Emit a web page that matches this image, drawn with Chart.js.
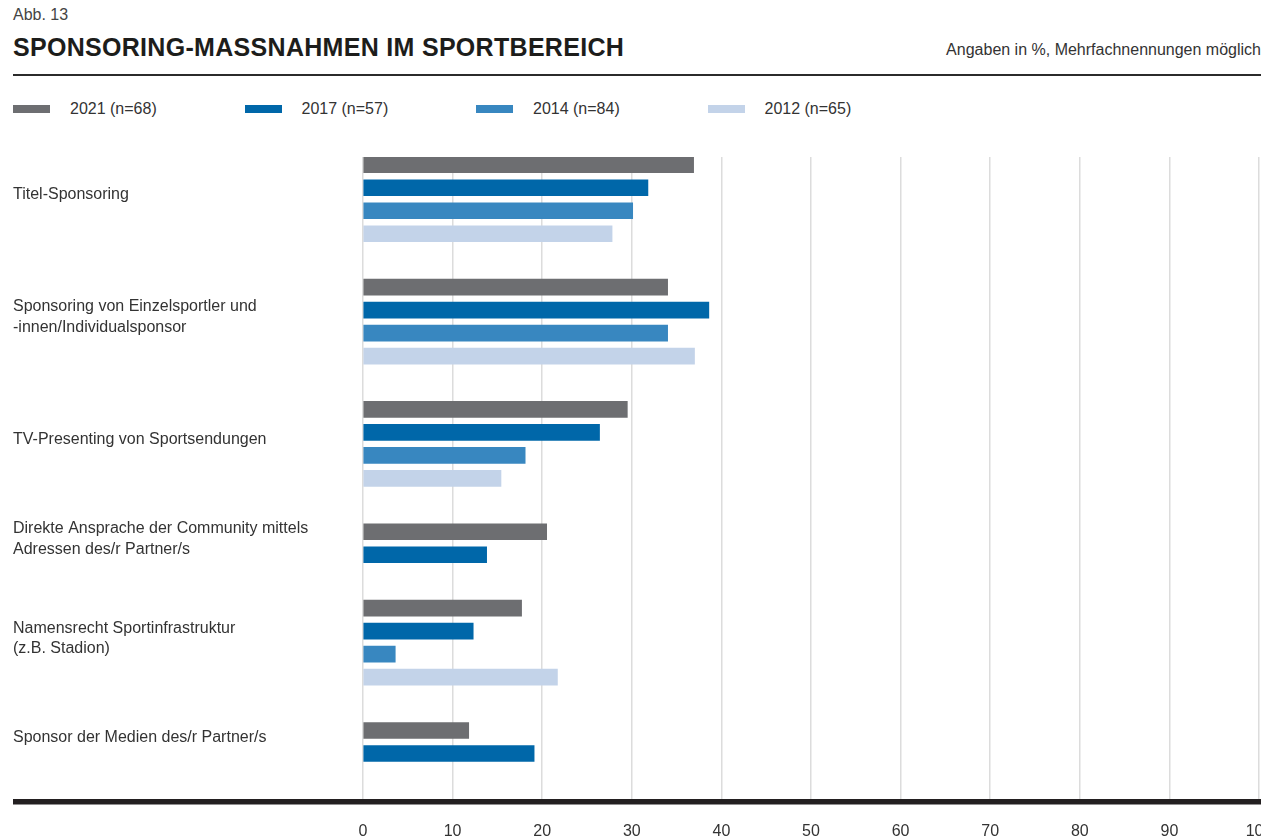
<!DOCTYPE html>
<html lang="de">
<head>
<meta charset="utf-8">
<title>Sponsoring-Maßnahmen im Sportbereich</title>
<script src="https://cdn.jsdelivr.net/npm/chart.js@4/dist/chart.umd.min.js"></script>
<style>
  html, body { margin: 0; padding: 0; background: #fff; overflow: hidden; }
  body { width: 1261px; height: 839px; position: relative; font-family: "Liberation Sans", Arial, sans-serif; color: #333; }
  .abb { position: absolute; left: 13px; top: 6px; font-size: 16px; color: #444; }
  .title { position: absolute; left: 13px; top: 33px; font-size: 25px; letter-spacing: 0.3px; font-weight: bold; color: #1d1d1b; }
  .note { position: absolute; right: 0; top: 41px; font-size: 16px; color: #333; }
  .rule { position: absolute; left: 13px; right: 0; top: 74px; height: 2px; background: #2b2b2b; }
  .legend-item { position: absolute; top: 100px; height: 18px; font-size: 16px; line-height: 18px; color: #333; white-space: nowrap; }
  .legend-item span { position: absolute; left: 0; top: 5px; width: 37px; height: 8px; }
  .legend-item b { font-weight: normal; position: absolute; left: 57px; top: 0; }
  .chart-box { position: absolute; left: 0; top: 140px; width: 1261px; height: 699px; }
</style>
</head>
<body>
<div class="abb">Abb. 13</div>
<div class="title">SPONSORING-MASSNAHMEN IM SPORTBEREICH</div>
<div class="note">Angaben in %, Mehrfachnennungen möglich</div>
<div class="rule"></div>
<div id="legend"></div>
<div class="chart-box"><canvas id="chart"></canvas></div>

<script>
// --- Daten ---
const categories = [
  ['Titel-Sponsoring'],
  ['Sponsoring von Einzelsportler und', '-innen/Individualsponsor'],
  ['TV-Presenting von Sportsendungen'],
  ['Direkte Ansprache der Community mittels', 'Adressen des/r Partner/s'],
  ['Namensrecht Sportinfrastruktur', '(z.B. Stadion)'],
  ['Sponsor der Medien des/r Partner/s']
];
const years = ['2021 (n=68)', '2017 (n=57)', '2014 (n=84)', '2012 (n=65)'];
const values2021 = [36.9, 34.0, 29.5, 20.5, 17.7, 11.8];
const values2017 = [31.8, 38.6, 26.4, 13.8, 12.3, 19.1];
const values2014 = [30.1, 34.0, 18.1, null, 3.6, null];
const values2012 = [27.8, 37.0, 15.4, null, 21.7, null];
const xTicks = [0, 10, 20, 30, 40, 50, 60, 70, 80, 90, 100];

const colors = ['#6d6e71', '#0067a9', '#3887c0', '#c3d3e9'];
const series = [values2021, values2017, values2014, values2012];

// jede Kategorie bekommt nur so viele Zeilen wie Balken vorhanden sind
const groupGap = 2.32;
const rows = [];
const groupCenters = [];
let pos = 0;
categories.forEach((c, i) => {
  const row = [];
  let k = 0;
  series.forEach(v => {
    if (v[i] != null) { row.push(pos + k); k++; } else row.push(null);
  });
  rows.push(row);
  groupCenters.push(pos + (k - 1) / 2);
  pos += k - 1 + groupGap;
});

// Legende
document.getElementById('legend').innerHTML = years.map((y, i) => `
  <div class="legend-item" style="left:${13 + i * 231.5}px"><span style="background:${colors[i]}"></span><b>${y}</b></div>
`).join('');

const datasets = series.map((v, s) => ({
  label: years[s],
  data: v.map((x, i) => x == null ? null : { x: x, y: rows[i][s] }).filter(Boolean),
  backgroundColor: colors[s],
  barThickness: 16,
  grouped: false
}));

const baseLine = {
  id: 'baseLine',
  afterDraw(chart) {
    const { ctx, chartArea, width } = chart;
    ctx.save();
    ctx.fillStyle = '#231f20';
    ctx.fillRect(13, chartArea.bottom, width - 13, 5.5);
    ctx.restore();
  }
};

const fontFamily = '"Liberation Sans", Arial, sans-serif';

new Chart(document.getElementById('chart'), {
  type: 'bar',
  data: { datasets },
  plugins: [baseLine],
  options: {
    indexAxis: 'y',
    responsive: true,
    maintainAspectRatio: false,
    animation: false,
    layout: { padding: { left: 13, top: 17, right: 2, bottom: 0 } },
    plugins: { legend: { display: false }, tooltip: { enabled: false } },
    scales: {
      x: {
        type: 'linear',
        position: 'bottom',
        min: 0,
        max: 100,
        afterBuildTicks: s => { s.ticks = xTicks.map(v => ({ value: v })); },
        afterFit: s => { s.height = 40; s.paddingLeft = 0; s.paddingRight = 0; },
        grid: { color: '#dcdcdc', lineWidth: 1.5, drawTicks: false },
        border: { display: false },
        ticks: { padding: 23, color: '#333', font: { family: fontFamily, size: 16 }, maxRotation: 0, autoSkip: false }
      },
      y: {
        type: 'linear',
        reverse: true,
        offset: false,
        min: -0.335,
        max: 27.578,
        afterBuildTicks: s => { s.ticks = groupCenters.map(v => ({ value: v - 0.18 })); },
        afterFit: s => { s.width = 350; s.paddingTop = 0; s.paddingBottom = 0; },
        grid: { display: false, offset: false },
        border: { display: false },
        ticks: {
          autoSkip: false,
          crossAlign: 'far',
          padding: 0,
          color: '#333',
          font: { family: fontFamily, size: 16, lineHeight: 1.3 },
          callback: (v, i) => categories[i]
        }
      }
    }
  }
});
</script>
</body>
</html>
